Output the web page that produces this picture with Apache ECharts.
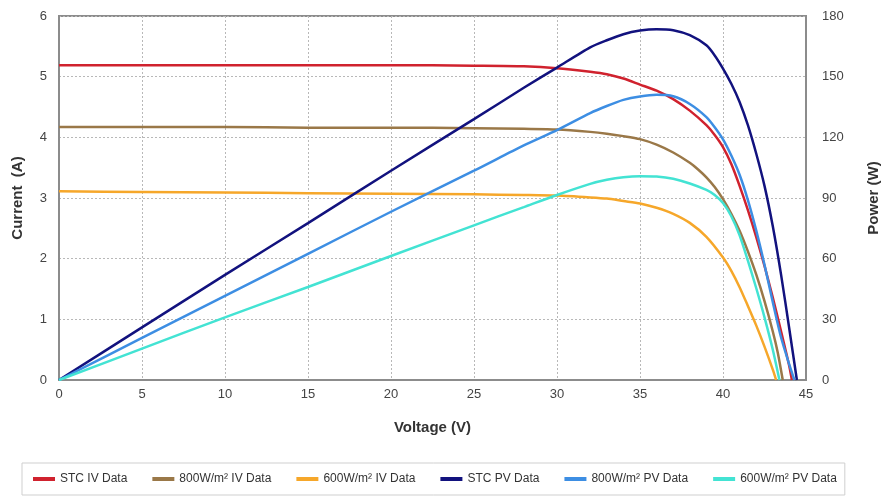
<!DOCTYPE html>
<html>
<head>
<meta charset="utf-8">
<script src="https://cdn.jsdelivr.net/npm/echarts@6/dist/echarts.min.js"></script>
<style>
html,body{margin:0;padding:0;background:#fff;}
#chart{width:882px;height:496px;}
</style>
</head>
<body>
<div id="chart"></div>
<script>
// ---- Data ----
var seriesNames = ['STC IV Data', '800W/m² IV Data', '600W/m² IV Data', 'STC PV Data', '800W/m² PV Data', '600W/m² PV Data'];

var stcIvV = [0, 5, 10, 15, 20, 25, 28, 30, 32, 33, 34, 35, 36, 37, 38, 39, 39.5, 40, 40.5, 41, 41.5, 42, 42.5, 43, 43.5, 44, 44.15];
var stcIvI = [5.19, 5.19, 5.19, 5.19, 5.19, 5.18, 5.17, 5.14, 5.08, 5.04, 4.97, 4.87, 4.77, 4.63, 4.44, 4.2, 4.04, 3.84, 3.56, 3.2, 2.8, 2.36, 1.88, 1.36, 0.8, 0.22, 0];

var ivV800 = [0, 5, 10, 15, 20, 25, 28, 30, 32, 33, 34, 35, 36, 37, 38, 38.5, 39, 39.5, 40, 40.5, 41, 41.5, 42, 42.5, 43, 43.3, 43.6];
var ivI800 = [4.17, 4.17, 4.17, 4.16, 4.16, 4.15, 4.14, 4.13, 4.09, 4.06, 4.02, 3.97, 3.88, 3.75, 3.58, 3.47, 3.34, 3.18, 2.98, 2.74, 2.46, 2.12, 1.74, 1.3, 0.8, 0.45, 0];

var ivV600 = [0, 5, 10, 15, 20, 25, 28, 30, 32, 33, 34, 35, 36, 37, 38, 39, 40, 40.5, 41, 41.5, 42, 42.5, 43, 43.2];
var ivI600 = [3.11, 3.10, 3.09, 3.08, 3.07, 3.06, 3.05, 3.04, 3.01, 2.99, 2.95, 2.91, 2.84, 2.74, 2.59, 2.36, 2.02, 1.8, 1.53, 1.22, 0.9, 0.55, 0.17, 0];

var stcPvV = [0, 5, 10, 15, 20, 25, 28, 30, 32, 33, 34, 35, 36, 37, 38, 39, 39.5, 40, 40.5, 41, 41.5, 42, 42.5, 43, 43.5, 44, 44.45];
var stcPvP = [0, 26, 52, 77.6, 103.5, 129, 144.5, 154.5, 164.5, 168, 171, 172.8, 173.5, 173, 170.5, 165.5, 160.5, 154, 146.5, 137.5, 126, 112, 96, 76, 52, 25, 0];

var pvV800 = [0, 5, 10, 15, 20, 25, 28, 30, 32, 33, 34, 35, 36, 37, 38, 39, 39.5, 40, 40.5, 41, 41.5, 42, 42.5, 43, 43.5, 44, 44.3];
var pvP800 = [0, 20.8, 41.6, 62.4, 83.2, 103.5, 116, 123.6, 132, 135.5, 138.5, 140.2, 141, 140.3, 136.5, 130, 125, 119, 111, 101.5, 89, 74, 57, 38.5, 21, 7.5, 0];

var pvV600 = [0, 5, 10, 15, 20, 25, 28, 30, 32, 33, 34, 35, 36, 37, 38, 39, 39.5, 40, 40.5, 41, 41.5, 42, 42.5, 43, 43.4];
var pvP600 = [0, 15.5, 31, 46, 61.3, 76.5, 85.5, 91.5, 97, 99, 100.3, 100.8, 100.6, 99.5, 97.2, 94, 91.5, 87.5, 81, 71.5, 59, 45.5, 31, 15, 0];

var voltageTicks = [0, 5, 10, 15, 20, 25, 30, 35, 40, 45];
var currentTicks = [0, 1, 2, 3, 4, 5, 6];
var powerTicks = [0, 30, 60, 90, 120, 150, 180];

var seriesColors = ['#d0222e', '#9a7848', '#f6a72a', '#12127e', '#3d8ee3', '#43e3d3'];

function zip(a, b) { return a.map(function (v, i) { return [v, b[i]]; }); }

var chart = echarts.init(document.getElementById('chart'));
var font = 'Liberation Sans, Arial, sans-serif';
var gridLine = { show: true, lineStyle: { color: '#b8b8b8', type: [2, 2], width: 1 } };

function mkSeries(idx, data, yIdx) {
  return {
    name: seriesNames[idx], type: 'line', data: data, yAxisIndex: yIdx,
    showSymbol: false, smooth: 0.25,
    lineStyle: { width: 2.5, color: seriesColors[idx] },
    itemStyle: { color: seriesColors[idx] }
  };
}

chart.setOption({
  animation: false,
  backgroundColor: '#fff',
  grid: { left: 59, right: 76, top: 16, bottom: 116, show: true, borderColor: '#8c8c8c', borderWidth: 2, outerBoundsMode: 'none', containLabel: false },
  legend: {
    left: 22, bottom: 1,
    padding: [10, 8, 10, 11],
    borderColor: '#cfcfcf', borderWidth: 1,
    itemWidth: 22, itemHeight: 4, itemGap: 25,
    icon: 'rect',
    textStyle: { fontFamily: font, fontSize: 12, color: '#333' },
    data: seriesNames
  },
  xAxis: {
    type: 'value', min: voltageTicks[0], max: voltageTicks[voltageTicks.length - 1], interval: 5,
    name: 'Voltage (V)', nameLocation: 'middle', nameGap: 40,
    nameTextStyle: { fontFamily: font, fontWeight: 'bold', fontSize: 15, color: '#333' },
    axisLine: { show: true, lineStyle: { color: '#8c8c8c', width: 2 } },
    axisTick: { show: false },
    axisLabel: { color: '#444', fontSize: 13, fontFamily: font, margin: 8 },
    splitLine: gridLine
  },
  yAxis: [
    {
      type: 'value', min: currentTicks[0], max: currentTicks[currentTicks.length - 1], interval: 1,
      name: 'Current  (A)', nameLocation: 'middle', nameGap: 34, nameRotate: 90,
      nameTextStyle: { fontFamily: font, fontWeight: 'bold', fontSize: 15, color: '#333' },
      axisLine: { show: true, lineStyle: { color: '#8c8c8c', width: 2 } },
      axisTick: { show: false },
      axisLabel: { color: '#444', fontSize: 13, fontFamily: font, margin: 12 },
      splitLine: gridLine
    },
    {
      type: 'value', min: powerTicks[0], max: powerTicks[powerTicks.length - 1], interval: 30,
      position: 'right',
      name: 'Power (W)', nameLocation: 'middle', nameGap: 60, nameRotate: 90,
      nameTextStyle: { fontFamily: font, fontWeight: 'bold', fontSize: 15, color: '#333' },
      axisLine: { show: true, lineStyle: { color: '#8c8c8c', width: 2 } },
      axisTick: { show: false },
      axisLabel: { color: '#444', fontSize: 13, fontFamily: font, margin: 16 },
      splitLine: { show: false }
    }
  ],
  series: [
    mkSeries(0, zip(stcIvV, stcIvI), 0),
    mkSeries(1, zip(ivV800, ivI800), 0),
    mkSeries(2, zip(ivV600, ivI600), 0),
    mkSeries(3, zip(stcPvV, stcPvP), 1),
    mkSeries(4, zip(pvV800, pvP800), 1),
    mkSeries(5, zip(pvV600, pvP600), 1)
  ]
});
</script>
</body>
</html>
